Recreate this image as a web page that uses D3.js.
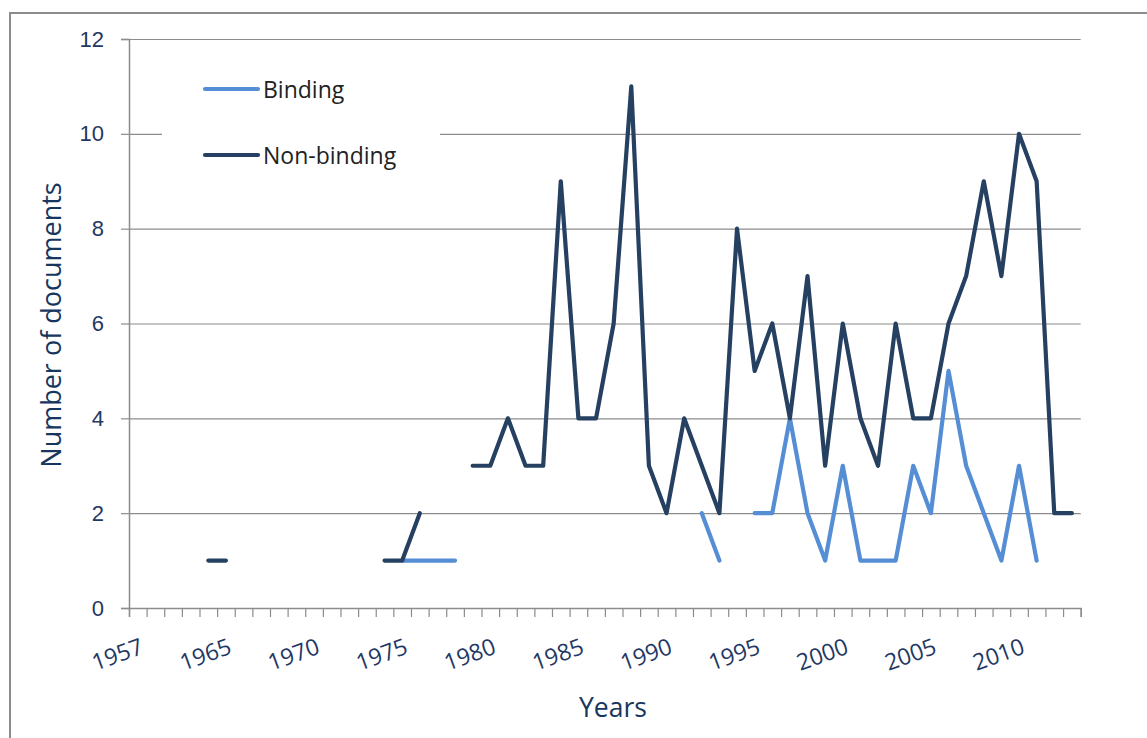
<!DOCTYPE html>
<html lang="en">
<head>
<meta charset="utf-8">
<script src="https://d3js.org/d3.v7.min.js"></script>
<style>
  body { margin: 0; background: #fff; }
  svg { display: block; font-family: "Open Sans", "Liberation Sans", sans-serif; }
</style>
</head>
<body>
<div id="chart"></div>
<script>
// categories on the x axis (Excel text axis, 1957 then 1961..2013)
var years = ["1957", "1961", "1962", "1963", "1964"].concat(d3.range(1965, 2014).map(String));

// documents per year, null where there is no point
var binding = [
  null, null, null, null, null, null, null, null, null, null,
  null, null, null, null, null, 1, 1, 1, 1, null,
  null, null, null, null, null, null, null, null, null, null,
  null, null, 2, 1, null, 2, 2, 4, 2, 1,
  3, 1, 1, 1, 3, 2, 5, 3, 2, 1,
  3, 1, null, null
];
var nonBinding = [
  null, null, null, null, 1, 1, null, null, null, null,
  null, null, null, null, 1, 1, 2, null, null, 3,
  3, 4, 3, 3, 9, 4, 4, 6, 11, 3,
  2, 4, 3, 2, 8, 5, 6, 4, 7, 3,
  6, 4, 3, 6, 4, 4, 6, 7, 9, 7,
  10, 9, 2, 2
];
var yTicks = [0, 2, 4, 6, 8, 10, 12];
var labelYears = years.filter(function(d, i) { return i % 5 === 0; });

var width = 1147, height = 738;
var plotLeft = 129, plotRight = 1080.7, plotTop = 39, plotBottom = 608;
var fontFamily = '"Open Sans", "Liberation Sans", sans-serif';

var svg = d3.select("#chart").append("svg")
    .attr("width", width)
    .attr("height", height);

// outer frame (only left and top edges are visible in the crop)
svg.append("path")
    .attr("d", "M10," + height + "V13H" + width)
    .attr("fill", "none")
    .attr("stroke", "#8c8c8c")
    .attr("stroke-width", 2);

var x = d3.scaleBand().domain(years).range([plotLeft, plotRight]).padding(0);
var xi = d3.scaleLinear().domain([0, years.length]).range([plotLeft, plotRight]);
var y = d3.scaleLinear().domain([0, 12]).range([plotBottom, plotTop]);

// horizontal gridlines
svg.append("g")
    .attr("transform", "translate(" + plotLeft + ",0)")
    .call(d3.axisLeft(y).tickValues(yTicks).tickSize(-(plotRight - plotLeft)).tickFormat(""))
    .call(function(g) {
        g.select(".domain").remove();
        g.selectAll("line").attr("stroke", "#8c8c8c").attr("stroke-width", 1.2);
    });

// y axis
svg.append("g")
    .attr("transform", "translate(" + plotLeft + ",0)")
    .attr("font-family", fontFamily)
    .call(d3.axisLeft(y).tickValues(yTicks).tickSize(8).tickPadding(17))
    .call(function(g) {
        g.attr("font-size", null);
        g.select(".domain").attr("stroke", "#8c8c8c").attr("stroke-width", 1.5);
        g.selectAll("line").attr("stroke", "#8c8c8c").attr("stroke-width", 1.2);
        g.selectAll("text").attr("fill", "#1f3864").style("font-size", "22px");
    });

// x axis tick marks between categories
svg.append("g")
    .attr("transform", "translate(0," + plotBottom + ")")
    .call(d3.axisBottom(xi).tickValues(d3.range(0, years.length + 1)).tickSize(9).tickFormat(""))
    .call(function(g) {
        g.select(".domain").attr("stroke", "#8c8c8c").attr("stroke-width", 1.5);
        g.selectAll("line").attr("stroke", "#8c8c8c").attr("stroke-width", 1.2);
    });

// x labels, every fifth category, rotated
svg.append("g")
    .attr("transform", "translate(0," + plotBottom + ")")
    .call(d3.axisBottom(x).tickValues(labelYears).tickSize(0))
    .call(function(g) {
        g.attr("font-family", fontFamily).attr("font-size", null);
        g.select(".domain").remove();
        g.selectAll("text")
            .attr("fill", "#1f3864")
            .style("font-size", "23px")
            .attr("text-anchor", "end")
            .attr("dy", 0)
            .attr("y", 0)
            .attr("transform", "translate(7,45) rotate(-20)");
    });

// axis titles
svg.append("text")
    .attr("transform", "translate(61,325) rotate(-90)")
    .attr("text-anchor", "middle")
    .attr("fill", "#17365d")
    .style("font-size", "27px")
    .text("Number of documents");

svg.append("text")
    .attr("x", 613)
    .attr("y", 717)
    .attr("text-anchor", "middle")
    .attr("fill", "#17365d")
    .style("font-size", "26.5px")
    .text("Years");

// series lines
var line = d3.line()
    .defined(function(d) { return d != null; })
    .x(function(d, i) { return x(years[i]) + x.bandwidth() / 2; })
    .y(function(d) { return y(d); });

var series = [
    { name: "Binding", values: binding, color: "#558ed5" },
    { name: "Non-binding", values: nonBinding, color: "#254061" }
];

svg.selectAll("path.series")
    .data(series)
    .enter().append("path")
    .attr("class", "series")
    .attr("d", function(d) { return line(d.values); })
    .attr("fill", "none")
    .attr("stroke", function(d) { return d.color; })
    .attr("stroke-width", 4.2)
    .attr("stroke-linejoin", "round")
    .attr("stroke-linecap", "round");

// legend
var legend = svg.append("g");
legend.append("rect")
    .attr("x", 162).attr("y", 58)
    .attr("width", 278).attr("height", 148)
    .attr("fill", "#fff");

var item = legend.selectAll("g.item")
    .data(series)
    .enter().append("g")
    .attr("class", "item")
    .attr("transform", function(d, i) { return "translate(205," + (89 + i * 66) + ")"; });

item.append("line")
    .attr("x1", 0).attr("x2", 53)
    .attr("stroke", function(d) { return d.color; })
    .attr("stroke-width", 4.2)
    .attr("stroke-linecap", "round");

item.append("text")
    .attr("x", 58)
    .attr("y", 9)
    .attr("fill", "#222")
    .style("font-size", "23px")
    .text(function(d) { return d.name; });
</script>
</body>
</html>
